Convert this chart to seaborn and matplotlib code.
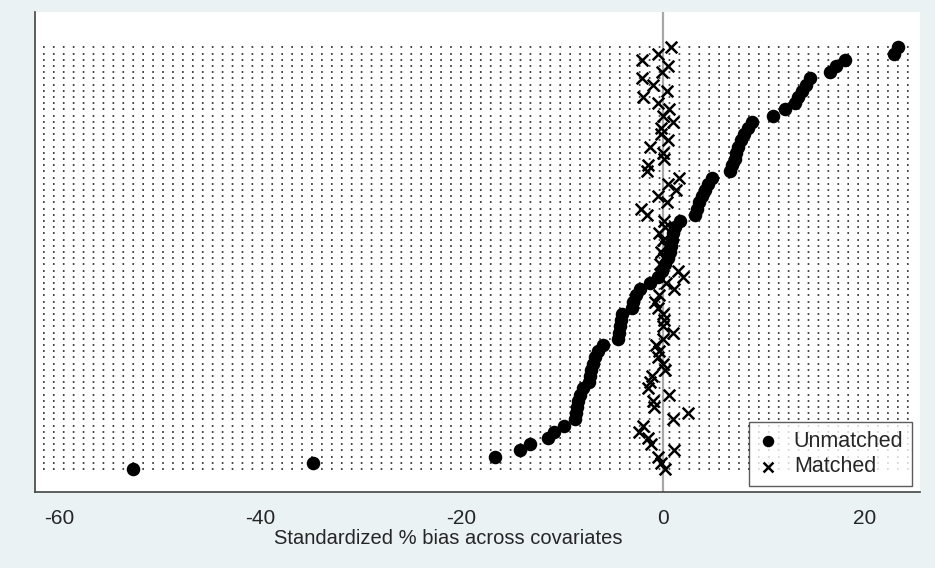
import numpy as np
import pandas as pd
import matplotlib
matplotlib.use("Agg")
import matplotlib.pyplot as plt
import seaborn as sns

# standardized % bias per covariate, sorted by unmatched bias (bottom row first)
unmatched = [-52.6, -34.8, -16.7, -14.2, -13.2, -11.4, -10.8, -9.8, -8.7, -8.6,
             -8.5, -8.4, -8.2, -7.9, -7.3, -7.2, -7.1, -7.0, -6.8, -6.5,
             -6.0, -4.5, -4.4, -4.3, -4.2, -4.1, -3.1, -3.0, -2.7, -2.3,
             -1.3, -0.5, -0.1, 0.2, 0.5, 0.7, 0.8, 0.9, 1.0, 1.2,
             1.7, 3.2, 3.4, 3.6, 3.9, 4.2, 4.5, 4.9, 6.7, 6.9,
             7.1, 7.2, 7.4, 7.7, 8.0, 8.4, 8.8, 10.9, 12.1, 13.1,
             13.4, 13.8, 14.2, 14.6, 16.6, 17.2, 18.1, 22.9, 23.3]
matched = [0.2, -0.2, -0.5, 1.1, -1.2, -1.5, -2.4, -2.0, 1.0, 2.5,
           -0.9, -1.0, 0.6, -1.5, -1.3, -1.1, 0.2, 0.0, -0.5, -0.4,
           -0.7, 0.0, 1.0, 0.0, 0.1, 0.0, -0.5, -0.8, -0.4, 1.1,
           0.3, 2.0, 1.5, -0.3, 0.1, -0.2, 0.3, 0.0, -0.4, 0.2,
           0.1, -1.6, -2.2, 0.4, -0.5, 1.3, 0.5, 1.6, -1.6, -1.5,
           0.1, 0.0, -1.3, 0.5, -0.2, -0.2, 1.0, 0.0, 0.6, -0.5,
           -2.0, 0.4, -1.0, -2.1, -0.1, 0.5, -2.1, -0.5, 0.8]
x_ticks = [-60, -40, -20, 0, 20]

rows = np.arange(len(unmatched))
df = pd.DataFrame({"row": np.concatenate([rows, rows]),
                   "bias": unmatched + matched,
                   "group": ["Unmatched"] * len(unmatched) + ["Matched"] * len(matched)})

sns.set_style("white")
plt.rcParams['font.family'] = ['Liberation Sans', 'DejaVu Sans']

bg = "#EAF2F3"
fig = plt.figure(figsize=(9.35, 5.68), dpi=100, facecolor=bg)
ax = fig.add_axes([35 / 935, 76 / 568, 885 / 935, 480 / 568])
ax.set_facecolor("white")

xmin, xmax = -62.36, 25.52
ax.set_xlim(xmin, xmax)
ax.set_ylim(-3.71, 73.7)

# dotted row lines
ax.hlines(rows, xmin + 0.8, xmax - 1.0, colors="#111111",
          linestyles=(0, (1.1, 5.4)), linewidth=1.1, zorder=1)
ax.axvline(0, color="#A8A8A8", linewidth=1.6, zorder=2)

u = df[df["group"] == "Unmatched"]
m = df[df["group"] == "Matched"]
sns.scatterplot(data=u, x="bias", y="row", ax=ax, marker="o", s=95,
                color="black", edgecolor="black", linewidth=0, zorder=3,
                label="Unmatched")
sns.scatterplot(data=m, x="bias", y="row", ax=ax, marker="x", s=70,
                color="black", linewidth=1.8, zorder=4, label="Matched")

for side in ["top", "right"]:
    ax.spines[side].set_visible(False)
for side in ["left", "bottom"]:
    ax.spines[side].set_color("#444444")
    ax.spines[side].set_linewidth(1.2)

ax.set_xticks(x_ticks)
ax.set_xticklabels([str(t) for t in x_ticks], fontsize=15)
ax.tick_params(axis="x", direction="out", length=7, width=1, color="#222222", pad=5)
ax.set_yticks(rows)
ax.set_yticklabels([])
ax.tick_params(axis="y", direction="out", length=2, width=0.8, color="#444444")
ax.set_xlabel("Standardized % bias across covariates", fontsize=14.5)
ax.xaxis.set_label_coords((448 - 35) / 885, (492 - 529) / 480)
ax.set_ylabel("")
ax.grid(False)

leg = ax.legend(loc="lower right", bbox_to_anchor=(0.991, 0.0125), borderaxespad=0,
                fontsize=15.5, frameon=True, fancybox=False, edgecolor="#333333",
                handlelength=1.0, handletextpad=0.7, borderpad=0.4,
                labelspacing=0.2, markerscale=0.85, alignment="left")
leg.get_frame().set_linewidth(1.0)

fig.savefig("out.png", dpi=100, facecolor=bg)
